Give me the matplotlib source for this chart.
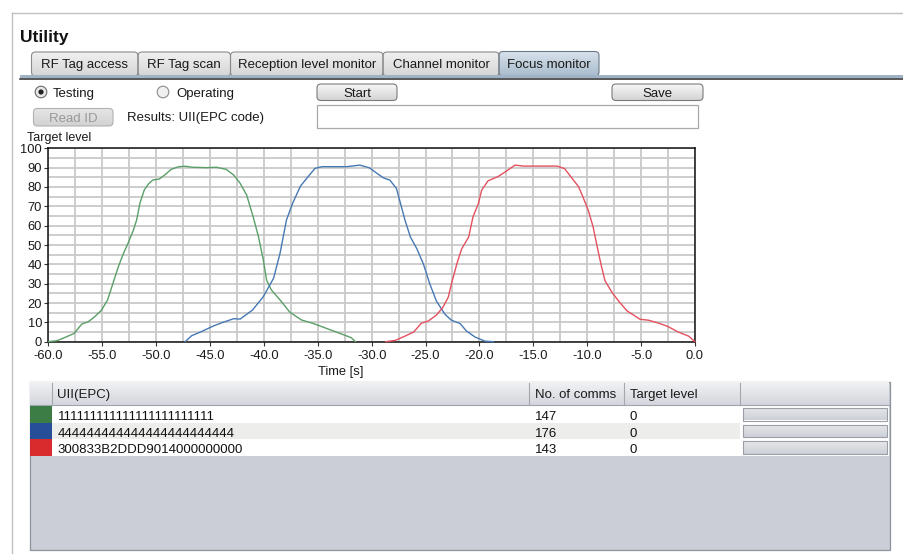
import matplotlib
matplotlib.use("Agg")
import matplotlib.pyplot as plt
import numpy as np
from matplotlib.patches import Rectangle, FancyBboxPatch, Circle

plt.rcParams['font.family'] = ['Liberation Sans', 'DejaVu Sans']

# ---------------- data ----------------
green_t = [-60.0, -59.2, -58.45, -57.6, -56.9, -56.3, -55.7, -55.05, -54.5, -54.0, -53.5, -53.0,
           -52.6, -52.1, -51.8, -51.5, -51.1, -50.7, -50.3, -49.7, -49.2, -48.6, -47.9, -47.3,
           -46.6, -45.3, -44.4, -43.5, -42.8, -42.2, -41.6, -41.0, -40.5, -40.05, -39.75, -39.3,
           -38.5, -37.6, -36.5, -35.4, -34.2, -32.9, -31.9, -31.5]
green_y = [0.0, 0.5, 2.2, 4.3, 9.1, 10.3, 12.9, 16.4, 21.6, 30.2, 38.8, 46.0,
           50.9, 57.8, 63.0, 71.6, 78.4, 81.6, 83.6, 84.1, 86.2, 89.1, 90.5, 90.7,
           90.2, 90.0, 90.2, 89.1, 86.2, 81.9, 75.9, 64.7, 54.3, 42.2, 31.9, 26.7,
           21.6, 15.3, 11.2, 9.4, 6.9, 4.2, 2.1, 0.0]

blue_t = [-47.3, -46.7, -45.8, -44.7, -43.8, -42.8, -42.2, -41.05, -40.05, -39.1, -38.5, -37.9,
          -37.3, -36.6, -35.9, -35.26, -34.6, -33.5, -32.3, -31.1, -30.2, -29.5, -28.9, -28.3,
          -27.7, -27.4, -26.9, -26.4, -25.8, -25.2, -24.6, -24.0, -23.2, -22.6, -21.8, -21.2,
          -20.4, -19.5, -18.7]
blue_y = [0.0, 3.1, 5.2, 8.1, 10.0, 11.9, 11.7, 16.4, 23.3, 32.8, 45.7, 63.0,
          72.0, 80.5, 85.3, 89.6, 90.5, 90.5, 90.5, 91.3, 89.9, 87.0, 84.7, 83.5,
          79.2, 73.1, 62.7, 54.1, 48.0, 40.2, 29.8, 21.1, 14.2, 11.1, 9.4, 5.5,
          2.4, 0.3, 0.0]

red_t = [-28.7, -27.8, -26.9, -26.1, -25.4, -24.75, -24.0, -23.4, -22.9, -22.6, -22.1, -21.65,
         -21.0, -20.6, -20.1, -19.8, -19.2, -18.3, -17.5, -16.7, -15.9, -14.4, -12.8, -12.1,
         -11.45, -10.8, -10.4, -9.9, -9.45, -9.0, -8.66, -8.35, -7.7, -7.1, -6.3, -5.1,
         -4.3, -3.25, -2.5, -1.55, -0.6, 0.0]
red_y = [0.0, 0.7, 2.9, 5.0, 9.5, 10.7, 13.7, 17.7, 22.9, 29.8, 40.2, 48.0,
         54.1, 64.5, 71.4, 78.3, 83.2, 85.3, 88.2, 91.3, 90.8, 90.8, 90.8, 89.5,
         84.8, 80.1, 74.9, 67.9, 59.3, 47.1, 38.5, 31.5, 25.5, 21.1, 15.9, 11.6,
         11.1, 9.4, 7.8, 5.0, 2.9, 0.0]

tab_labels = ["RF Tag access", "RF Tag scan", "Reception level monitor", "Channel monitor", "Focus monitor"]
table_headers = ["UII(EPC)", "No. of comms", "Target level"]
table_uii = ["111111111111" + "111111111111",
             "444444444444" + "444444444444",
             "300833B2DDD9014000000000"]
table_comms = [147, 176, 143]
table_level = [0, 0, 0]
x_ticks = [-60, -55, -50, -45, -40, -35, -30, -25, -20, -15, -10, -5, 0]
y_ticks = [0, 10, 20, 30, 40, 50, 60, 70, 80, 90, 100]

line_colors = ["#5a9f68", "#4678b4", "#e5505f"]
swatch_colors = ["#3b7d45", "#274f99", "#d92b2e"]

# ---------------- figure ----------------
W, H = 904, 554
fig = plt.figure(figsize=(W / 100, H / 100), dpi=100)
fig.patch.set_facecolor("white")
bg = fig.add_axes([0, 0, 1, 1])
bg.set_xlim(0, W)
bg.set_ylim(H, 0)
bg.axis("off")

FS = 9.5


def txt(x, baseline, s, ha="left", color="#1a1a1a", fs=FS, **kw):
    bg.text(x, baseline, s, fontsize=fs, ha=ha, va="baseline", color=color, zorder=5, **kw)


def grad_rect(x0, y0, x1, y1, c_top, c_bot, edge=None, rounded=False, z=1, lw=0.8):
    grad = np.linspace(0, 1, 32).reshape(-1, 1)
    ct = np.array(matplotlib.colors.to_rgb(c_top))
    cb = np.array(matplotlib.colors.to_rgb(c_bot))
    img = ct[None, None, :] * (1 - grad[:, :, None]) + cb[None, None, :] * grad[:, :, None]
    im = bg.imshow(img, extent=(x0, x1, y1, y0), aspect="auto", zorder=z, interpolation="bilinear")
    if rounded:
        p = FancyBboxPatch((x0, y0), x1 - x0, y1 - y0, boxstyle="round,pad=0,rounding_size=4",
                           facecolor="none", edgecolor=edge or "none", lw=lw, zorder=z + 0.1)
    else:
        p = Rectangle((x0, y0), x1 - x0, y1 - y0, facecolor="none",
                      edgecolor=edge or "none", lw=lw, zorder=z + 0.1)
    bg.add_patch(p)
    im.set_clip_path(p)
    return p


# outer border
bg.plot([12, W], [12.5, 12.5], color="#c0c0c0", lw=1.0, zorder=1)
bg.plot([12, 12], [12.5, H], color="#c0c0c0", lw=1.0, zorder=1)

txt(20, 41.7, "Utility", fs=12.5, fontweight="bold", color="#111111")

# tabs
tab_x = [31.5, 138, 230.5, 383, 499, 599]
for i, lab in enumerate(tab_labels):
    x0, x1 = tab_x[i], tab_x[i + 1]
    sel = (i == len(tab_labels) - 1)
    if sel:
        grad_rect(x0, 51.5, x1, 76, "#d8e2ec", "#a9bccd", edge="#6c7a88", rounded=True, z=2)
    else:
        grad_rect(x0, 52, x1, 76, "#f0f0f0", "#d6d6d6", edge="#8a8a8a", rounded=True, z=2)
    txt((x0 + x1) / 2, 68.3, lab, ha="center")
bg.add_patch(Rectangle((20, 75), W - 20, 3.2, facecolor="#9fb2c6", edgecolor="none", zorder=3))
bg.plot([20, W], [79, 79], color="#2a2a2a", lw=1.1, zorder=3)

# radio buttons
bg.add_patch(Circle((41, 92), 5.8, facecolor="#e8e8e8", edgecolor="#6a6a6a", lw=0.8, zorder=3))
bg.add_patch(Circle((41, 92), 2.6, facecolor="#222222", edgecolor="none", zorder=4))
txt(53, 97.0, "Testing")
bg.add_patch(Circle((163, 92), 5.8, facecolor="#f0f0f0", edgecolor="#8a8a8a", lw=0.8, zorder=3))
txt(176, 97.0, "Operating")

# buttons
grad_rect(317, 84, 397, 100.5, "#fafafa", "#d4d4d4", edge="#7a7a7a", rounded=True, z=2)
txt(357, 97.0, "Start", ha="center")
grad_rect(612, 84, 703, 100.5, "#fafafa", "#d4d4d4", edge="#7a7a7a", rounded=True, z=2)
txt(657.5, 97.0, "Save", ha="center")
grad_rect(33.5, 108.5, 113, 126, "#e6e6e6", "#d2d2d2", edge="#b0b0b0", rounded=True, z=2)
txt(73, 121.5, "Read ID", ha="center", color="#9a9a9a")
txt(127, 121.5, "Results: UII(EPC code)")
bg.add_patch(Rectangle((317, 105), 381, 23, facecolor="white", edgecolor="#a8a8a8", lw=0.9, zorder=2))

txt(27, 141.2, "Target level", fs=9)

# ---------------- chart ----------------
ax_l, ax_t, ax_r, ax_b = 48.3, 148.3, 695, 341.7
ax = fig.add_axes([ax_l / W, 1 - ax_b / H, (ax_r - ax_l) / W, (ax_b - ax_t) / H])
ax.set_facecolor("white")
ax.set_xlim(-60, 0)
ax.set_ylim(0, 100)
ax.set_xticks(x_ticks)
ax.set_xticklabels([f"{v:.1f}" for v in x_ticks])
ax.set_yticks(y_ticks)
ax.set_xticks(np.arange(-60, 0.1, 2.5), minor=True)
ax.set_yticks(np.arange(0, 100.1, 5), minor=True)
ax.grid(which="both", color="#c9c9c9", lw=1.3, zorder=0)
ax.set_axisbelow(True)
for s in ax.spines.values():
    s.set_color("#111111")
    s.set_linewidth(1.1)
ax.tick_params(axis="both", which="major", labelsize=9.3, length=3, width=0.8, color="#333333",
               labelcolor="#1a1a1a")
ax.tick_params(axis="x", which="major", pad=3)
ax.tick_params(axis="y", which="major", pad=1.5)
ax.tick_params(axis="both", which="minor", length=0)

txt(341, 374.5, "Time [s]", ha="center", fs=9.3)

for t, y, c in [(green_t, green_y, line_colors[0]), (blue_t, blue_y, line_colors[1]),
                (red_t, red_y, line_colors[2])]:
    ax.plot(t, y, color=c, lw=1.0, zorder=3, clip_on=False, solid_joinstyle="round")

# ---------------- table ----------------
tx0, tx1, ty0, ty1 = 30.5, 890, 381.5, 549.5
bg.add_patch(Rectangle((tx0, ty0), tx1 - tx0, ty1 - ty0, facecolor="#cbced6", edgecolor="#8e929a",
                       lw=0.9, zorder=1))
col_x = [30.5, 52, 529, 624.5, 740.5, 889]
grad_rect(tx0, ty0, 889, 405, "#f2f3f5", "#d3d6dc", edge=None, z=2)
for cx in col_x[1:-1]:
    bg.plot([cx, cx], [ty0 + 1, 405], color="#a3a7ae", lw=0.8, zorder=3)
bg.plot([tx0, 889], [405, 405], color="#9fa3ab", lw=0.8, zorder=3)
hdr_x = [57, 535, 630]
for hx, h in zip(hdr_x, table_headers):
    txt(hx, 398.3, h)

row_y = [405.5, 422.5, 439.3, 456]
row_base = [420.0, 436.7, 453.3]
for i in range(3):
    y0, y1 = row_y[i], row_y[i + 1]
    bg.add_patch(Rectangle((52, y0), 837, y1 - y0, facecolor="white", edgecolor="none", zorder=2))
    if i == 1:
        bg.add_patch(Rectangle((52, y0), 740.5 - 52, y1 - y0, facecolor="#ededeb", edgecolor="none", zorder=2))
    bg.add_patch(Rectangle((30.5, y0), 21.5, y1 - y0, facecolor=swatch_colors[i], edgecolor="none", zorder=3))
    txt(57.5, row_base[i], table_uii[i], color="#111111")
    txt(535, row_base[i], str(table_comms[i]), color="#111111")
    txt(630, row_base[i], str(table_level[i]), color="#111111")
    grad_rect(743.5, y0 + 2, 887, y1 - 2, "#e6e8ec", "#cdd0d6", edge="#9a9ea6", z=3, lw=0.8)

fig.savefig("out.png", dpi=100)
